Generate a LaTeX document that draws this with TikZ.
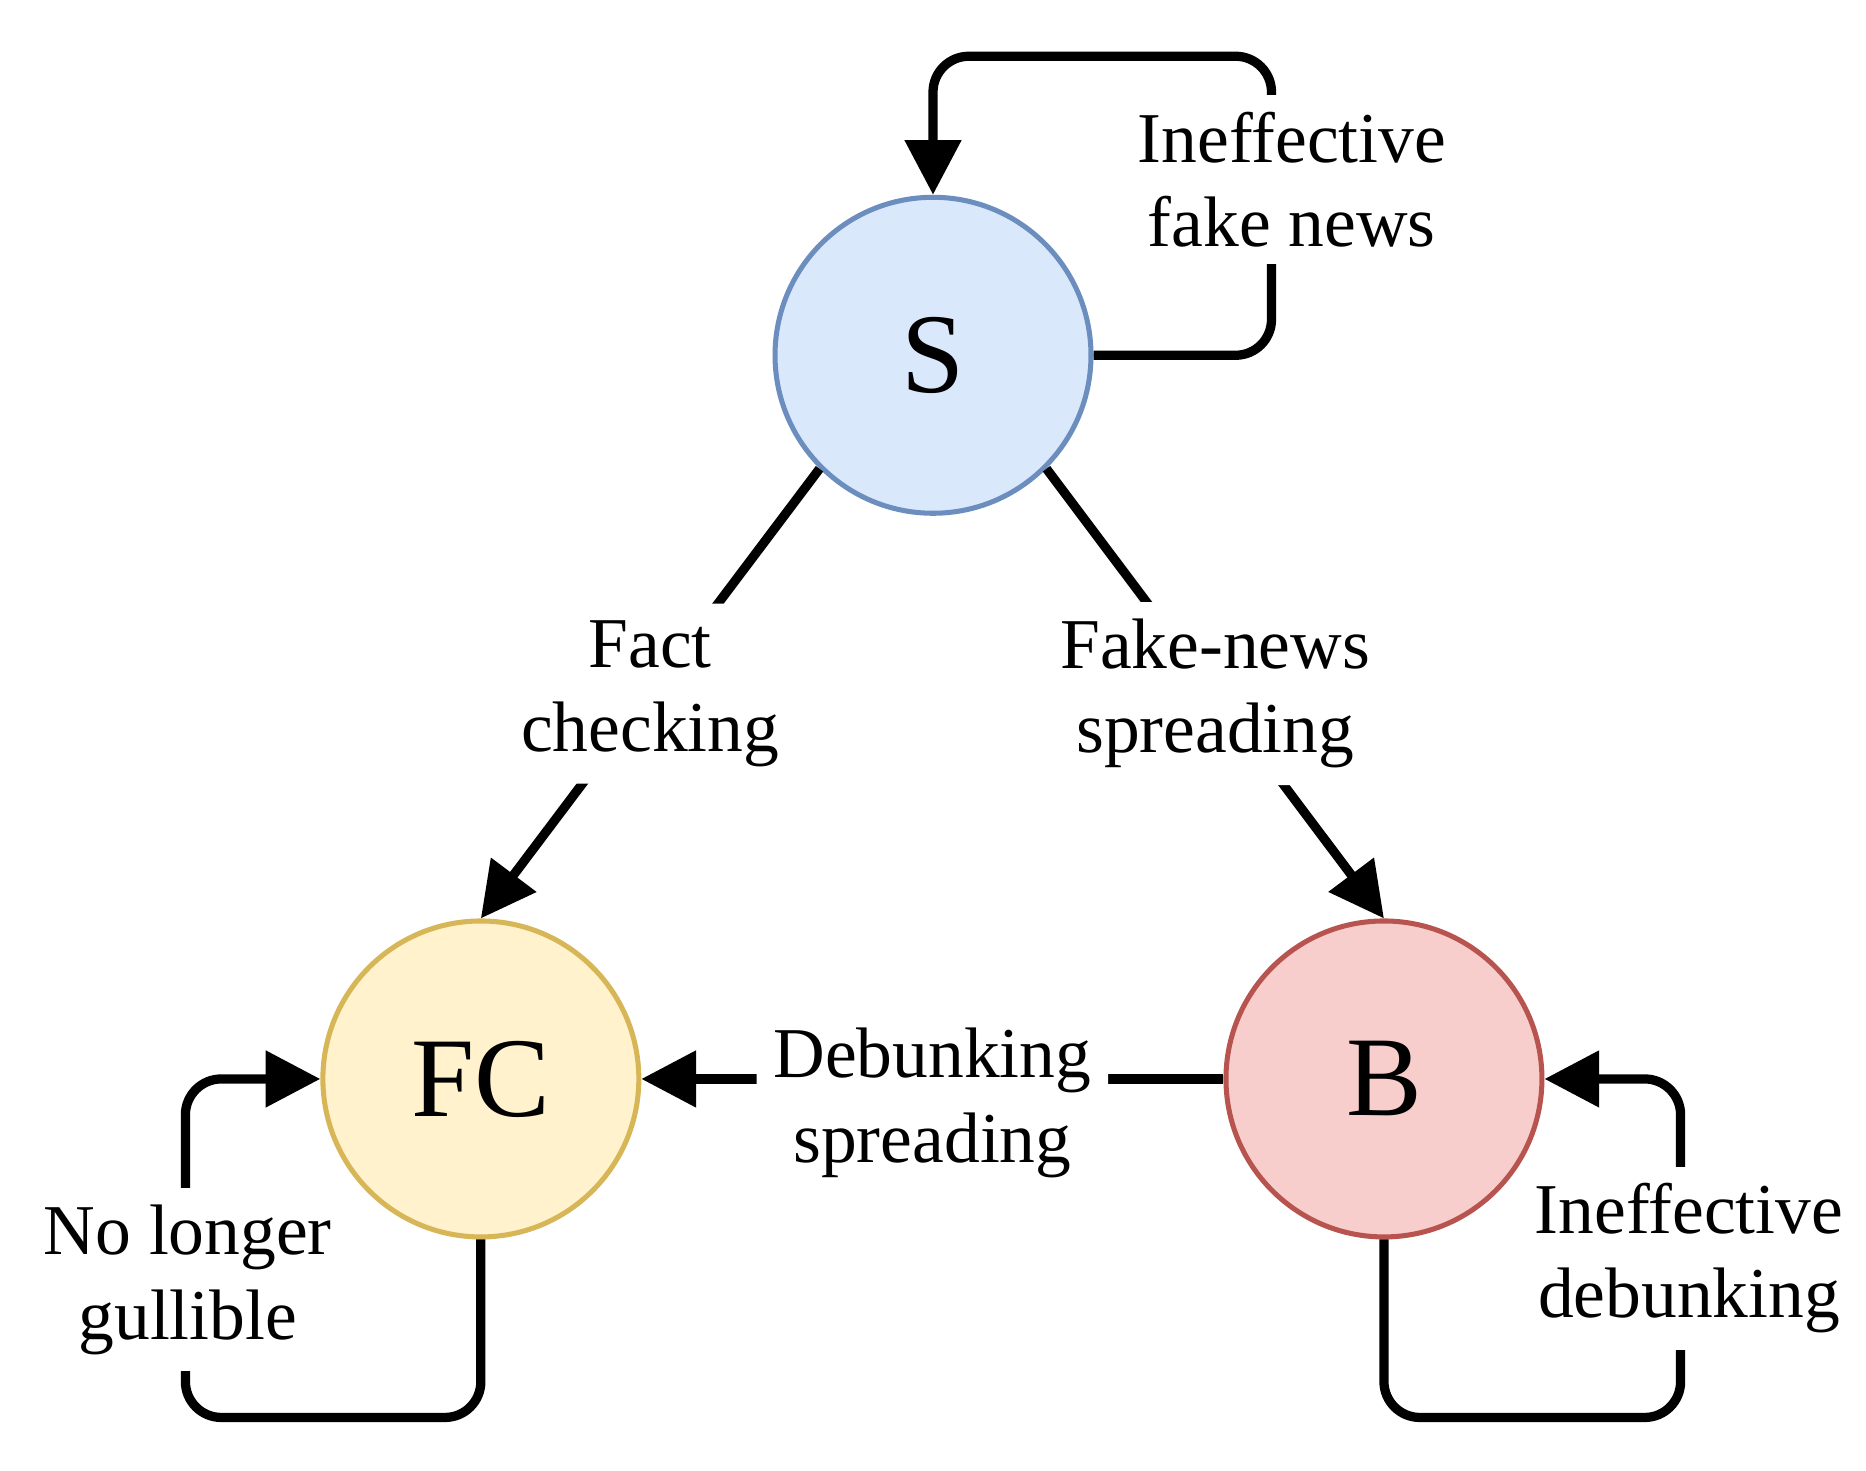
\documentclass[tikz,border=0pt]{standalone}
\usepackage{fontspec}
\setmainfont{Liberation Serif}
\usetikzlibrary{arrows.meta}
\begin{document}
\begin{tikzpicture}[x=0.01cm,y=-0.01cm,
  st/.style={circle,minimum size=2.64cm,inner sep=0pt,line width=1.2pt,font=\fontsize{27}{30}\selectfont},
  ln/.style={line width=2.2pt,rounded corners=0.3cm},
  ar/.style={ln,-{Triangle[length=13pt,width=13pt]}},
  lb/.style={fill=white,align=center,inner sep=4pt,font=\fontsize{17}{20}\selectfont}]
\useasboundingbox (0,0) rectangle (1560,1229);
\node[st,fill={rgb,255:red,218;green,232;blue,252},draw={rgb,255:red,108;green,142;blue,191}] (S) at (780,297) {S};
\node[st,fill={rgb,255:red,255;green,242;blue,204},draw={rgb,255:red,214;green,182;blue,86}] (FC) at (402,902) {FC};
\node[st,fill={rgb,255:red,248;green,206;blue,204},draw={rgb,255:red,184;green,84;blue,80}] (B) at (1157,902) {B};
\draw[ar] (S.225) -- (FC.north) node[lb,pos=0.5] {Fact\\checking};
\draw[ar] (S.-45) -- (B.north) node[lb,pos=0.5] {Fake-news\\spreading};
\draw[ar] (B.west) -- (FC.east) node[lb,pos=0.5,yshift=-0.2cm] {Debunking\\spreading};
\coordinate (s1) at (1063,297); \coordinate (s2) at (1063,47); \coordinate (s3) at (780,47);
\draw[ar] (S.east) -- (s1) -- (s2) -- (s3) -- (S.north);
\node[lb] (lS) at (1080,150) {Ineffective\\fake news};
\coordinate (f1) at (402,1185); \coordinate (f2) at (155,1185); \coordinate (f3) at (155,902);
\draw[ar] (FC.south) -- (f1) -- (f2) -- (f3) -- (FC.west);
\node[lb] (lF) at (157,1070) {No longer\\gullible};
\coordinate (b1) at (1157,1185); \coordinate (b2) at (1405,1185); \coordinate (b3) at (1405,902);
\draw[ar] (B.south) -- (b1) -- (b2) -- (b3) -- (B.east);
\node[lb] (lB) at (1412,1052) {Ineffective\\debunking};
\end{tikzpicture}
\end{document}
